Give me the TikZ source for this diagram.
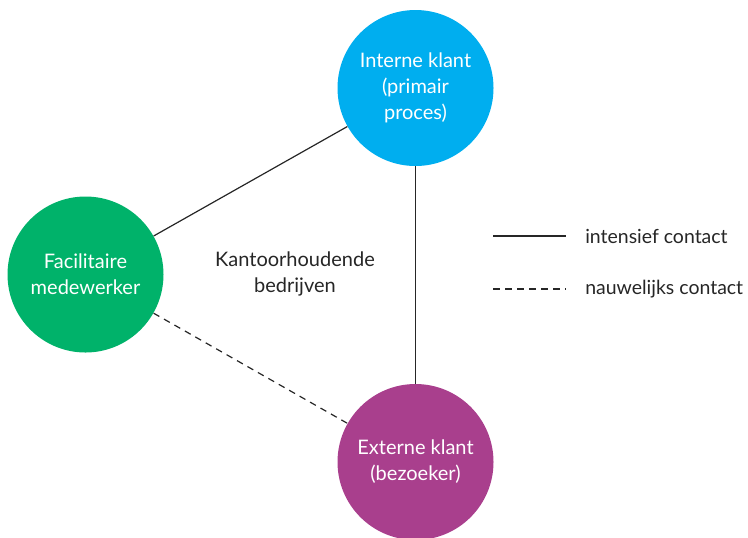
\documentclass[tikz,border=0pt]{standalone}
\usepackage{fontspec}
\setmainfont{Lato}
\definecolor{cblue}{HTML}{00AEEF}
\definecolor{cgreen}{HTML}{00B26A}
\definecolor{cpurple}{HTML}{A93F8D}
\definecolor{cline}{HTML}{262626}
\begin{document}
\begin{tikzpicture}[x=0.75pt,y=-0.75pt,
  bubble/.style={circle,minimum size=117pt,inner sep=0pt,text=white,align=center,font=\fontsize{15}{19.5}\selectfont},
  conn/.style={draw=cline,line width=0.9pt},
  lbl/.style={text=cline,font=\fontsize{15}{19}\selectfont,align=center},
  legtext/.style={text=cline,font=\fontsize{14.6}{19}\selectfont,anchor=west,inner sep=0pt},
  dashedline/.style={conn,dash pattern=on 5pt off 4pt}]
\useasboundingbox (0,0) rectangle (748,537);
\node[bubble,fill=cblue] (blue) at (415.5,88) {Interne klant\\(primair\\proces)};
\node[bubble,fill=cgreen] (green) at (85.5,274.5) {Facilitaire\\medewerker};
\node[bubble,fill=cpurple] (purple) at (415.5,462) {Externe klant\\(bezoeker)};
\draw[conn] (green) -- (blue);
\draw[conn] (blue) -- (purple);
\draw[dashedline] (green) -- (purple);
\node[lbl] (mid) at (295,274) {Kantoorhoudende\\bedrijven};
\coordinate (s1) at (493,236);
\coordinate (s2) at (566,236);
\coordinate (d1) at (493,289);
\coordinate (d2) at (566,289);
\draw[conn] (s1) -- (s2);
\draw[dashedline] (d1) -- (d2);
\node[legtext] (t1) at (585,236) {intensief contact};
\node[legtext] (t2) at (585,289) {nauwelijks contact};
\end{tikzpicture}
\end{document}
